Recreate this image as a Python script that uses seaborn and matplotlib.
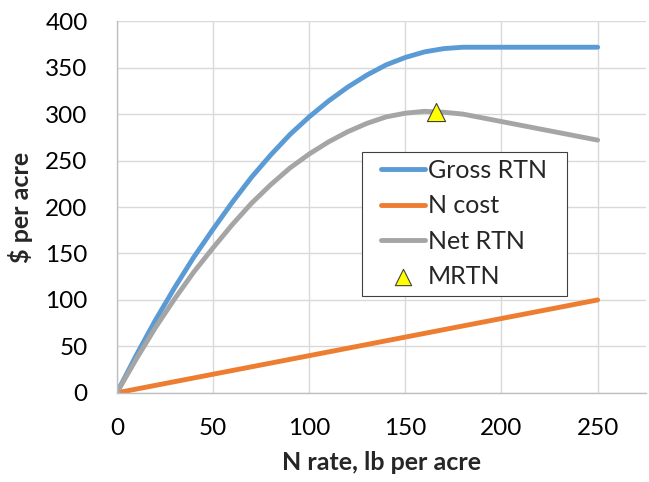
import matplotlib
matplotlib.use("Agg")
import matplotlib.pyplot as plt
from matplotlib.patches import Rectangle
import seaborn as sns
import pandas as pd

# Data
n_rate = [0, 10, 20, 30, 40, 50, 60, 70, 80, 90, 100, 110, 120, 130, 140,
          150, 160, 170, 180, 190, 200, 210, 220, 230, 240, 250]
gross_rtn = [0, 40, 78, 113, 146, 176, 205, 232, 256, 278, 297, 314, 329, 342, 353,
             361, 367, 370.5, 372, 372, 372, 372, 372, 372, 372, 372]
n_cost = [0, 4, 8, 12, 16, 20, 24, 28, 32, 36, 40, 44, 48, 52, 56,
          60, 64, 68, 72, 76, 80, 84, 88, 92, 96, 100]
net_rtn = [0, 36, 70, 101, 130, 156, 181, 204, 224, 242, 257, 270, 281, 290, 297,
           301, 303, 302, 300, 296, 292, 288, 284, 280, 276, 272]
mrtn_x = [166]
mrtn_y = [302]

x_ticks = [0, 50, 100, 150, 200, 250]
y_ticks = [0, 50, 100, 150, 200, 250, 300, 350, 400]

sns.set_theme(style="white")
plt.rcParams['font.family'] = ['Lato', 'DejaVu Sans']

fig = plt.figure(figsize=(6.49, 4.82), dpi=100)
ax = fig.add_axes([0.180, 0.185, 0.815, 0.771])

df = pd.DataFrame({"n": n_rate, "Gross RTN": gross_rtn, "N cost": n_cost, "Net RTN": net_rtn})
sns.lineplot(data=df, x="n", y="Gross RTN", ax=ax, color="#5B9BD5", lw=3.5, label="Gross RTN")
sns.lineplot(data=df, x="n", y="N cost", ax=ax, color="#ED7D31", lw=3.5, label="N cost")
sns.lineplot(data=df, x="n", y="Net RTN", ax=ax, color="#A5A5A5", lw=3.5, label="Net RTN")
sns.scatterplot(x=mrtn_x, y=mrtn_y, ax=ax, marker="^", s=170, color="#FFFF00",
                edgecolor="#404040", linewidth=0.8, label="MRTN", zorder=5)

ax.set_xlim(0, 275)
ax.set_ylim(0, 400)
ax.set_xticks(x_ticks)
ax.set_yticks(y_ticks)
ax.tick_params(axis="both", labelsize=17.5, length=0, colors="#000000")
ax.tick_params(axis="x", pad=18)
ax.tick_params(axis="y", pad=21)
ax.grid(True, color="#D9D9D9", lw=1)
for s in ["top", "right"]:
    ax.spines[s].set_visible(False)
for s in ["left", "bottom"]:
    ax.spines[s].set_color("#BFBFBF")
    ax.spines[s].set_linewidth(1)
ax.set_xlabel("N rate, lb per acre", fontsize=18, fontweight="bold", labelpad=9)
ax.set_ylabel("$ per acre", fontsize=18, fontweight="bold", labelpad=9)

# legend frame (Excel-style: wide side padding, tight vertical padding)
frame = Rectangle((0.463, 0.261), 0.388, 0.387, transform=ax.transAxes,
                  facecolor="white", edgecolor="#404040", lw=0.8, zorder=4.5)
ax.add_patch(frame)

leg = ax.legend(loc="upper left", bbox_to_anchor=(0.497, 0.632), borderaxespad=0,
                fontsize=18, frameon=False, handlelength=1.75, handletextpad=0.12,
                labelspacing=0.49, borderpad=0.05, markerscale=0.9)
leg.set_zorder(6)

fig.savefig("out.png", dpi=100)
